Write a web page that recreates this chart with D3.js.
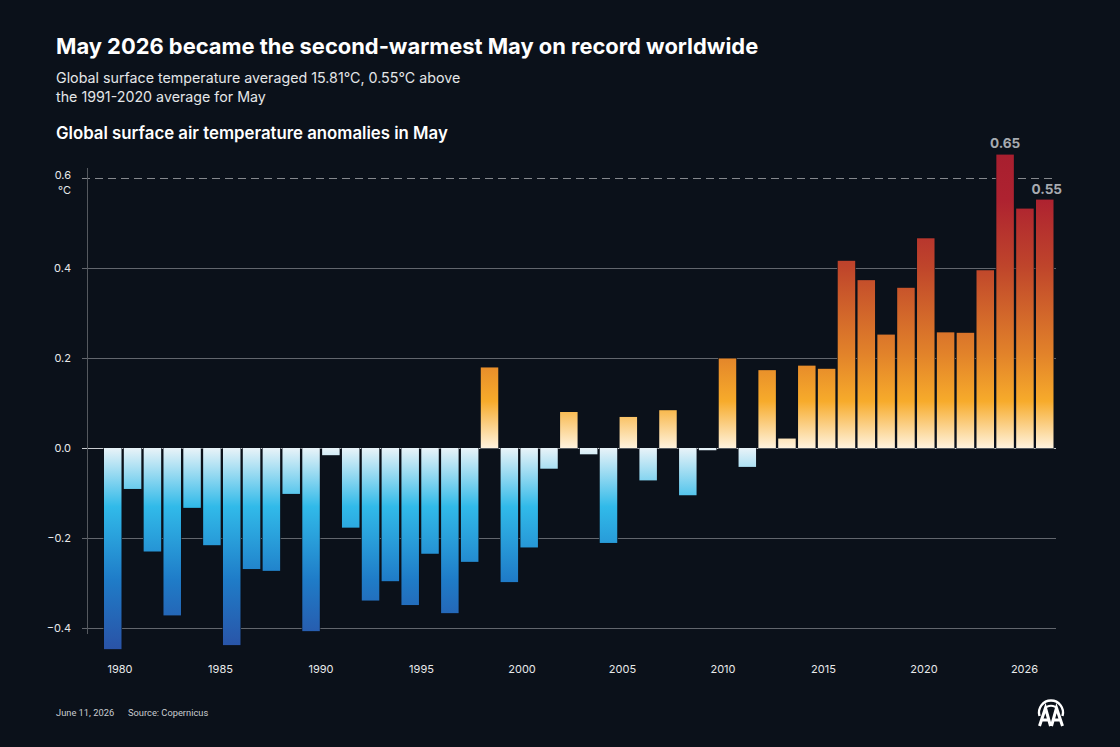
<!DOCTYPE html>
<html lang="en">

<head>
  <meta charset="utf-8">
  <title>May 2026 became the second-warmest May on record worldwide</title>
  <script src="https://d3js.org/d3.v7.min.js"></script>
  <style>
    html, body {
      margin: 0;
      background: #0b111a;
    }

    svg {
      display: block;
    }

    text {
      font-family: Inter, sans-serif;
      fill: #fff;
    }

    .title {
      font-size: 21.9px;
      font-weight: 700;
    }

    .subtitle {
      font-size: 14.25px;
      fill: #e4e6e8;
    }

    .heading {
      font-size: 16.8px;
      font-weight: 600;
    }

    .tick text, .unit {
      font-size: 11px;
      fill: #e8e9ea;
    }

    .callout {
      font-size: 13.6px;
      font-weight: 700;
      fill: #a7abb1;
      text-anchor: middle;
    }

    .footer {
      font-family: Roboto, sans-serif;
      font-size: 9.3px;
      fill: #c9ccd0;
    }
  </style>
</head>

<body>
  <svg width="1120" height="747"></svg>

  <script>
    var years = d3.range(1979, 2027);

    var anomalies = [
      -0.447, -0.091, -0.230, -0.372, -0.133, -0.216, -0.438, -0.269,
      -0.273, -0.102, -0.407, -0.016, -0.177, -0.339, -0.296, -0.349,
      -0.235, -0.367, -0.253, 0.179, -0.298, -0.221, -0.046, 0.080,
      -0.014, -0.211, 0.069, -0.072, 0.084, -0.105, -0.005, 0.199,
      -0.042, 0.173, 0.021, 0.183, 0.176, 0.416, 0.373, 0.252,
      0.356, 0.466, 0.257, 0.256, 0.395, 0.652, 0.532, 0.552
    ];

    var yTicks = [-0.4, -0.2, 0, 0.2, 0.4, 0.6];
    var xLabels = ["1980", "1985", "1990", "1995", "2000", "2005", "2010", "2015", "2020", "2026"];
    var callouts = [2024, 2026];

    var svg = d3.select("svg");

    var x = d3.scaleBand()
      .domain(years)
      .range([104, 1053.5])
      .paddingInner(0.118)
      .paddingOuter(0);

    var y = d3.scaleLinear()
      .domain([-0.4, 0.6])
      .range([628, 178]);

    // the printed year labels are evenly spread, they do not sit under their bars
    var xAxisScale = d3.scalePoint()
      .domain(xLabels)
      .range([119.5, 1024]);

    var byYear = new Map(years.map((d, i) => [d, anomalies[i]]));

    // Gradients run over the whole chart height, so a short bar only shows the pale part
    var defs = svg.append("defs");

    function addGradient(id, from, to, stops) {
      var g = defs.append("linearGradient")
        .attr("id", id)
        .attr("gradientUnits", "userSpaceOnUse")
        .attr("x1", 0).attr("x2", 0)
        .attr("y1", y(from)).attr("y2", y(to));
      stops.forEach(s => g.append("stop").attr("offset", s[0]).attr("stop-color", s[1]));
    }

    addGradient("warm", 0, 0.65, [
      [0, "#fff3de"],
      [0.16, "#f7ab2b"],
      [0.32, "#e2832a"],
      [0.62, "#bf452b"],
      [0.85, "#ae2230"],
      [1, "#a81f2f"]
    ]);

    addGradient("cold", 0, -0.45, [
      [0, "#e9f3f8"],
      [0.29, "#31bae9"],
      [0.65, "#1f7cc8"],
      [1, "#2a52a6"]
    ]);

    // Y AXIS + GRID
    var yAxis = svg.append("g")
      .attr("transform", "translate(88, 0)")
      .call(d3.axisLeft(y)
        .tickValues(yTicks)
        .tickSize(0)
        .tickPadding(17)
        .tickFormat(d => d3.format(".1f")(d).replace("-", "\u2212")));

    yAxis.select(".domain").remove();

    yAxis.selectAll(".tick line")
      .attr("x1", -6)
      .attr("x2", 968)
      .attr("stroke", d => d === 0 ? "#c9ccd0" : d === 0.6 ? "#85888d" : "#62666d")
      .attr("stroke-dasharray", d => d === 0.6 ? "8 5" : null);

    yAxis.selectAll(".tick text")
      .attr("dy", d => d === 0.6 ? "0.08em" : "0.32em");

    svg.append("line")
      .attr("x1", 87.5).attr("x2", 87.5)
      .attr("y1", 168).attr("y2", 634)
      .attr("stroke", "#55595f");

    svg.append("text")
      .attr("class", "unit")
      .attr("x", 71)
      .attr("y", 194)
      .attr("text-anchor", "end")
      .text("°C");

    // BARS
    svg.append("g")
      .selectAll("rect")
      .data(years)
      .join("rect")
      .attr("x", d => x(d))
      .attr("width", x.bandwidth())
      .attr("y", d => y(Math.max(0, byYear.get(d))))
      .attr("height", d => Math.abs(y(byYear.get(d)) - y(0)))
      .attr("fill", d => byYear.get(d) > 0 ? "url(#warm)" : "url(#cold)")
      .attr("stroke", "#0b111a")
      .attr("stroke-width", 1.2)
      .attr("paint-order", "stroke");

    // X AXIS
    var xAxis = svg.append("g")
      .attr("transform", "translate(0, 661)")
      .call(d3.axisBottom(xAxisScale).tickSize(0).tickPadding(4));

    xAxis.select(".domain").remove();

    // CALLOUTS
    svg.append("g")
      .selectAll("text")
      .data(callouts)
      .join("text")
      .attr("class", "callout")
      .attr("x", d => x(d) + x.bandwidth() / 2 + (d === 2026 ? 2 : 0))
      .attr("y", d => y(byYear.get(d)) - (d === 2026 ? 5.5 : 6.5))
      .text(d => d === 2024 ? "0.65" : "0.55");

    // TITLES
    svg.append("text").attr("class", "title").attr("x", 56).attr("y", 54)
      .text("May 2026 became the second-warmest May on record worldwide");
    svg.append("text").attr("class", "subtitle").attr("x", 56).attr("y", 83)
      .text("Global surface temperature averaged 15.81°C, 0.55°C above");
    svg.append("text").attr("class", "subtitle").attr("x", 56).attr("y", 102)
      .text("the 1991-2020 average for May");
    svg.append("text").attr("class", "heading").attr("x", 56).attr("y", 138.5)
      .text("Global surface air temperature anomalies in May");

    // FOOTER
    svg.append("text").attr("class", "footer").attr("x", 56).attr("y", 715.5).text("June 11, 2026");
    svg.append("text").attr("class", "footer").attr("x", 128).attr("y", 715.5).text("Source: Copernicus");

    // LOGO
    var logo = svg.append("g")
      .attr("transform", "translate(1051, 713)")
      .attr("fill", "none")
      .attr("stroke", "#fff");

    logo.append("path").attr("stroke-width", 2.4).attr("d", "M-11.5,3 A12,12 0 1 1 11.5,3");
    logo.append("path").attr("stroke-width", 1.8).attr("d", "M-6.5,-3.5 A7.5,7.5 0 0 1 6.5,-3.5");
    logo.append("path").attr("stroke-width", 3)
      .attr("d", "M-11.5,13 L-5.5,-5 L-0.5,13 M-8.5,7 H-3 M0.5,13 L5.5,-5 L11.5,13 M3,7 H8.5");
  </script>

</body>

</html>
